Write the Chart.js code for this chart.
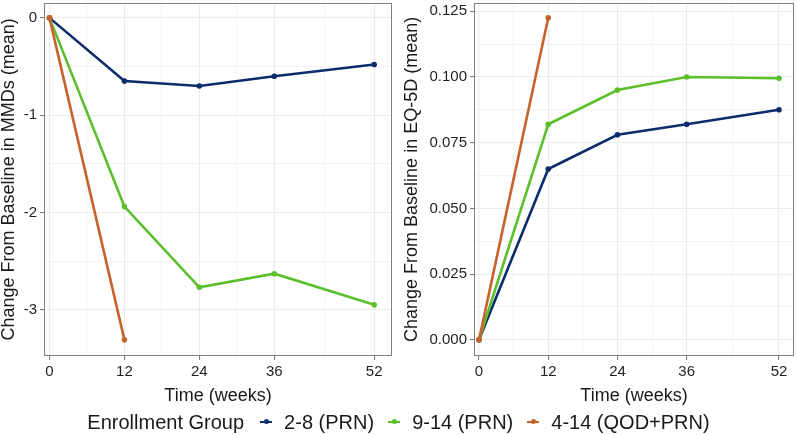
<!DOCTYPE html>
<html>
<head>
<meta charset="utf-8">
<script src="https://cdn.jsdelivr.net/npm/chart.js@4.4.1/dist/chart.umd.min.js"></script>
<style>
  body { margin: 0; background: #fff; width: 797px; height: 435px; position: relative; overflow: hidden; }
  canvas { position: absolute; top: 0; }
  #left { left: 0; }
  #right { left: 397px; }
  #legend {
    position: absolute; top: 409px; left: 0; width: 797px; height: 26px;
    font-family: 'Liberation Sans', Arial, sans-serif; font-size: 20px; color: #1a1a1a;
    display: flex; align-items: center; justify-content: center; white-space: nowrap;
  }
  #legend .title { margin-right: 16px; }
  #legend .key { position: relative; width: 12px; height: 2.5px; margin: 0 12px 0 0; }
  #legend .key::after {
    content: ''; position: absolute; left: 3.5px; top: -1.75px; width: 5px; height: 5px;
    border-radius: 50%; background: inherit;
  }
  #legend .item { margin-right: 14px; }
  #legend .item:last-child { margin-right: 0; }
</style>
</head>
<body>
<canvas id="left" width="397" height="410"></canvas>
<canvas id="right" width="400" height="410"></canvas>
<div id="legend"></div>

<script>
// data
const weeks = [0, 12, 24, 36, 52];
const weeksShort = [0, 12];
const groups = ['2-8 (PRN)', '9-14 (PRN)', '4-14 (QOD+PRN)'];
const groupColors = ['#0d2c6c', '#5cbf2c', '#c8622c'];

const mmdBlue = [0, -0.65, -0.70, -0.60, -0.48];
const mmdGreen = [0, -1.94, -2.77, -2.63, -2.95];
const mmdOrange = [0, -3.31];

const eqBlue = [0, 0.065, 0.078, 0.082, 0.0875];
const eqGreen = [0, 0.082, 0.095, 0.100, 0.0995];
const eqOrange = [0, 0.1225];

const xMajor = [0, 12, 24, 36, 52];
const xMinor = [6, 18, 30, 44];
const mmdMajor = [0, -1, -2, -3];
const mmdMinor = [-0.5, -1.5, -2.5];
const eqMajor = [0, 0.025, 0.05, 0.075, 0.1, 0.125];
const eqMinor = [0.0125, 0.0375, 0.0625, 0.0875, 0.1125];

const FONT = "'Liberation Sans', Arial, sans-serif";
const GRID = '#ebebeb';
const FRAME = '#7f7f7f';

const pts = (xs, ys) => ys.map((y, i) => ({ x: xs[i], y: y }));

const panelBorder = {
  id: 'panelBorder',
  afterDraw(chart) {
    const a = chart.chartArea;
    const ctx = chart.ctx;
    ctx.save();
    ctx.strokeStyle = FRAME;
    ctx.lineWidth = 1;
    ctx.strokeRect(Math.round(a.left) + 0.5, Math.round(a.top) + 0.5,
      Math.round(a.right - a.left) - 1, Math.round(a.bottom - a.top) - 1);
    ctx.restore();
  }
};

function axis(major, minor, opts) {
  const all = major.concat(minor);
  return {
    type: 'linear',
    min: opts.min,
    max: opts.max,
    afterBuildTicks: (s) => { s.ticks = all.map(v => ({ value: v })); },
    afterFit: (s) => {
      if (opts.width) s.width = opts.width;
      if (opts.height) s.height = opts.height;
      // let the panel run to the layout edges, as in the original
      s.paddingTop = 0; s.paddingBottom = 0;
      s.paddingLeft = 0; s.paddingRight = 0;
    },
    border: { display: false },
    grid: {
      color: GRID,
      lineWidth: (c) => (c.tick && minor.includes(c.tick.value)) ? 0.6 : 1.1,
      tickColor: (c) => (c.tick && minor.includes(c.tick.value)) ? 'rgba(0,0,0,0)' : FRAME,
      tickLength: 4,
      drawTicks: true
    },
    ticks: {
      autoSkip: false,
      maxRotation: 0,
      padding: opts.tickPad,
      color: '#1f1f1f',
      font: { family: FONT, size: 15 },
      callback: (v) => minor.includes(v) ? '' : opts.fmt(v)
    },
    title: {
      display: true,
      text: opts.title,
      color: '#1a1a1a',
      font: { family: FONT, size: 18, lineHeight: 1 },
      padding: opts.titlePad
    }
  };
}

function makeChart(id, series, yMajor, yMinor, yOpts, xOpts, pad) {
  const datasets = series.map((s, i) => ({
    label: groups[i],
    data: s,
    borderColor: groupColors[i],
    backgroundColor: groupColors[i],
    borderWidth: 2.6,
    pointRadius: 2.8,
    pointHoverRadius: 2.8,
    pointBorderWidth: 0,
    tension: 0,
    order: 3 - i
  }));
  return new Chart(document.getElementById(id), {
    type: 'line',
    data: { datasets: datasets },
    options: {
      responsive: false,
      animation: false,
      layout: { padding: pad },
      plugins: { legend: { display: false }, tooltip: { enabled: false } },
      scales: {
        x: axis(xMajor, xMinor, xOpts),
        y: axis(yMajor, yMinor, yOpts)
      }
    },
    plugins: [panelBorder]
  });
}

makeChart('left',
  [pts(weeks, mmdBlue), pts(weeks, mmdGreen), pts(weeksShort, mmdOrange)],
  mmdMajor, mmdMinor,
  { min: -3.476, max: 0.155, width: 44, tickPad: 3, fmt: (v) => String(v),
    title: 'Change From Baseline in MMDs (mean)', titlePad: { top: 0, bottom: 0 } },
  { min: -0.88, max: 54.85, height: 54, tickPad: 3, fmt: (v) => String(v),
    title: 'Time (weeks)', titlePad: { top: 0, bottom: 5 } },
  { top: 0, right: 5, bottom: 0, left: 0 });

makeChart('right',
  [pts(weeks, eqBlue), pts(weeks, eqGreen), pts(weeksShort, eqOrange)],
  eqMajor, eqMinor,
  { min: -0.00614, max: 0.1282, width: 77, tickPad: 3, fmt: (v) => v.toFixed(3),
    title: 'Change From Baseline in EQ-5D (mean)', titlePad: { top: 6, bottom: 0 } },
  { min: -0.87, max: 54.6, height: 54, tickPad: 3, fmt: (v) => String(v),
    title: 'Time (weeks)', titlePad: { top: 0, bottom: 5 } },
  { top: 0, right: 3, bottom: 0, left: 0 });

// shared legend
const legend = document.getElementById('legend');
const t = document.createElement('span');
t.className = 'title';
t.textContent = 'Enrollment Group';
legend.appendChild(t);
groups.forEach((g, i) => {
  const k = document.createElement('span');
  k.className = 'key';
  k.style.background = groupColors[i];
  legend.appendChild(k);
  const s = document.createElement('span');
  s.className = 'item';
  s.textContent = g;
  legend.appendChild(s);
});
</script>
</body>
</html>
